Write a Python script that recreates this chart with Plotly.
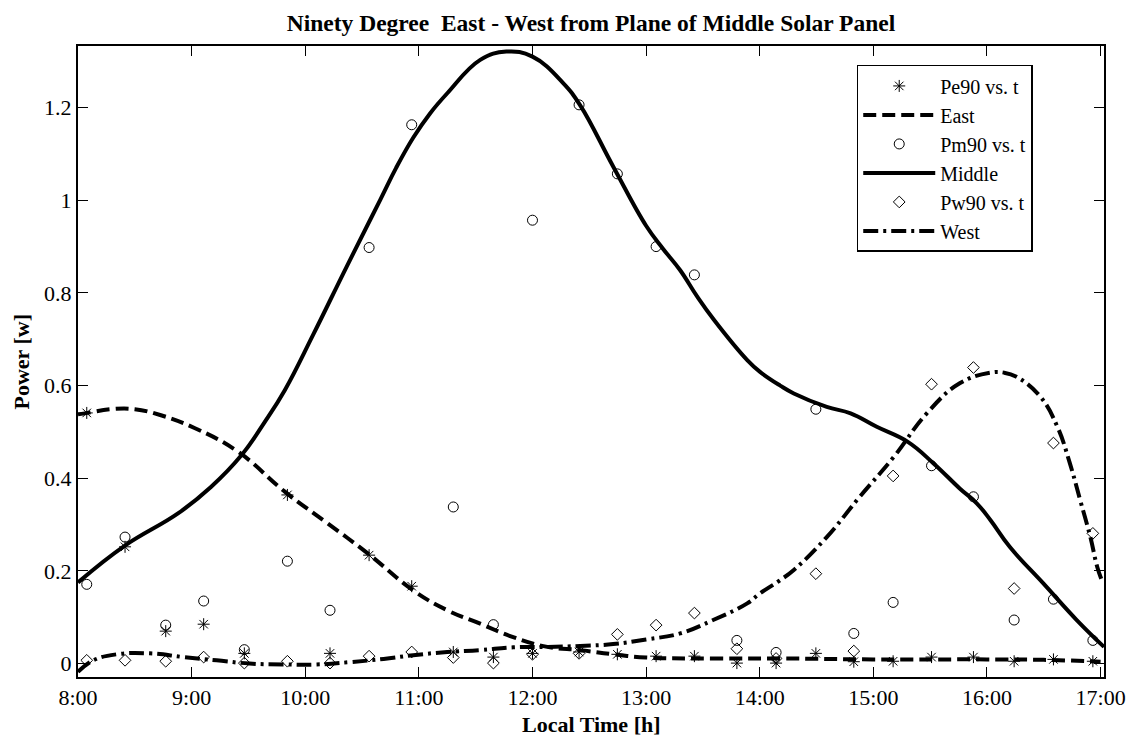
import plotly.graph_objects as go

# Measurement times (decimal hours)
t_meas = [8.077, 8.414, 8.772, 9.106, 9.464, 9.843, 10.218, 10.562, 10.937, 11.303,
          11.656, 12.0, 12.41, 12.747, 13.088, 13.425, 13.799, 14.144, 14.494, 14.828,
          15.174, 15.512, 15.881, 16.239, 16.585, 16.932]

pe90 = [0.541, 0.252, 0.070, 0.085, 0.022, 0.364, 0.022, 0.234, 0.167, 0.025,
        0.014, 0.022, 0.025, 0.020, 0.016, 0.016, 0.001, 0.001, 0.022, 0.004,
        0.005, 0.014, 0.014, 0.005, 0.009, 0.005]

pm90 = [0.171, 0.273, 0.083, 0.135, 0.030, 0.221, 0.115, 0.898, 1.163, 0.338,
        0.084, 0.957, 1.206, 1.057, 0.900, 0.839, 0.050, 0.024, 0.549, 0.065,
        0.132, 0.427, 0.360, 0.094, 0.139, 0.050]

pw90 = [0.007, 0.007, 0.005, 0.014, 0.001, 0.005, 0.001, 0.016, 0.025, 0.013,
        0.001, 0.020, 0.022, 0.063, 0.083, 0.109, 0.032, 0.011, 0.194, 0.027,
        0.405, 0.603, 0.639, 0.162, 0.476, 0.281]

# Fitted curves
t_east = [8.0, 8.06, 8.29, 8.5, 8.73, 9.03, 9.41, 9.82, 10.2, 10.55, 10.95,
          11.25, 11.54, 11.83, 12.13, 12.42, 12.71, 13.0, 13.6, 14.2, 15.0, 16.0, 16.5, 17.0]
east = [0.538, 0.540, 0.549, 0.549, 0.536, 0.508, 0.457, 0.371, 0.302, 0.238, 0.158,
        0.115, 0.086, 0.057, 0.036, 0.029, 0.020, 0.013, 0.011, 0.011, 0.009, 0.009, 0.008, 0.004]

t_mid = [8.0, 8.41, 8.88, 9.17, 9.44, 9.64, 9.82, 10.07, 10.365, 10.66, 10.8,
         10.95, 11.1, 11.25, 11.54, 11.77, 12.0, 12.27, 12.42, 12.71, 13.0, 13.15,
         13.3, 13.45, 13.6, 13.89, 14.0, 14.18, 14.3, 14.59, 14.8, 15.03, 15.3, 15.53,
         15.76, 15.91, 16.03, 16.2, 16.5, 16.79, 17.03]
middle = [0.175, 0.254, 0.324, 0.381, 0.450, 0.520, 0.590, 0.710, 0.857, 1.001, 1.070,
          1.135, 1.188, 1.231, 1.303, 1.321, 1.310, 1.253, 1.205, 1.073, 0.945, 0.895,
          0.849, 0.792, 0.741, 0.655, 0.630, 0.600, 0.583, 0.554, 0.540, 0.511, 0.479, 0.432,
          0.378, 0.346, 0.310, 0.252, 0.172, 0.094, 0.036]

t_west = [8.0, 8.135, 8.34, 8.63, 8.93, 9.22, 9.51, 9.81, 10.1, 10.39, 10.69, 10.95, 11.25,
          11.54, 11.83, 12.13, 12.42, 12.71, 13.0, 13.3, 13.59, 13.89, 14.0, 14.18, 14.3,
          14.59, 14.88, 15.18, 15.47, 15.76, 16.03, 16.15, 16.26, 16.47, 16.62, 16.73,
          16.82, 16.91, 16.97, 17.01]
west = [-0.018, 0.007, 0.020, 0.022, 0.014, 0.007, 0.000, -0.002, -0.002, 0.003, 0.010, 0.018,
        0.025, 0.029, 0.035, 0.036, 0.038, 0.042, 0.052, 0.065, 0.094, 0.130, 0.151, 0.180,
        0.202, 0.273, 0.360, 0.446, 0.540, 0.605, 0.628, 0.628, 0.619, 0.576, 0.511, 0.432,
        0.353, 0.273, 0.209, 0.180]

x_tickvals = [8, 9, 10, 11, 12, 13, 14, 15, 16, 17]
x_ticktext = ["8:00", "9:00", "10:00", "11:00", "12:00", "13:00", "14:00", "15:00", "16:00", "17:00"]

FONT = "Liberation Serif, Times New Roman, serif"

fig = go.Figure()
fig.add_trace(go.Scatter(x=t_meas, y=pe90, mode="markers", name="Pe90 vs. t",
                         marker=dict(symbol="asterisk-open", size=10, color="black",
                                     line=dict(color="black", width=1))))
fig.add_trace(go.Scatter(x=t_east, y=east, mode="lines", name="East",
                         line=dict(color="black", width=4, dash="13px,6px", shape="spline",
                                   smoothing=1.2)))
fig.add_trace(go.Scatter(x=t_meas, y=pm90, mode="markers", name="Pm90 vs. t",
                         marker=dict(symbol="circle-open", size=10, color="black",
                                     line=dict(color="black", width=1))))
fig.add_trace(go.Scatter(x=t_mid, y=middle, mode="lines", name="Middle",
                         line=dict(color="black", width=4, shape="spline", smoothing=1.2)))
fig.add_trace(go.Scatter(x=t_meas, y=pw90, mode="markers", name="Pw90 vs. t",
                         marker=dict(symbol="diamond-open", size=9, color="black",
                                     line=dict(color="black", width=1))))
fig.add_trace(go.Scatter(x=t_west, y=west, mode="lines", name="West",
                         line=dict(color="black", width=4, dash="15px,5px,3px,5px", shape="spline",
                                   smoothing=1.2)))

axis_common = dict(showline=True, linecolor="black", linewidth=2, mirror="ticks",
                   ticks="inside", ticklen=10, tickwidth=1, tickcolor="black",
                   showgrid=False, zeroline=False, automargin=False,
                   tickfont=dict(family=FONT, size=22, color="black"))

fig.update_layout(
    width=1133, height=738,
    margin=dict(l=78, r=29, t=46, b=61, autoexpand=False),
    paper_bgcolor="white", plot_bgcolor="white",
    font=dict(family=FONT, color="black"),
    title=dict(text="<b>Ninety Degree&nbsp;&nbsp;East - West from Plane of Middle Solar Panel</b>",
               x=0.5, xref="paper", xanchor="center",
               y=1 - 23 / 738, yref="container", yanchor="middle",
               font=dict(family=FONT, size=23.5, color="black")),
    xaxis=dict(range=[8, 17.03], tickvals=x_tickvals, ticktext=x_ticktext, **axis_common),
    yaxis=dict(range=[-0.029, 1.333], tick0=0, dtick=0.2, **axis_common),
    legend=dict(x=0.759, y=0.97, xanchor="left", yanchor="top",
                bgcolor="white", bordercolor="black", borderwidth=1.5,
                font=dict(family=FONT, size=20, color="black"),
                itemwidth=72, tracegroupgap=0),
    showlegend=True,
    annotations=[
        dict(text="<b>Local Time [h]</b>", xref="paper", yref="paper", x=0.5, y=-0.075,
             xanchor="center", yanchor="middle", showarrow=False,
             font=dict(family=FONT, size=22, color="black")),
        dict(text="<b>Power [w]</b>", xref="paper", yref="paper", x=-0.0546, y=0.5,
             xanchor="center", yanchor="middle", textangle=-90, showarrow=False,
             font=dict(family=FONT, size=22, color="black")),
    ],
)

fig.write_html("out.html")
